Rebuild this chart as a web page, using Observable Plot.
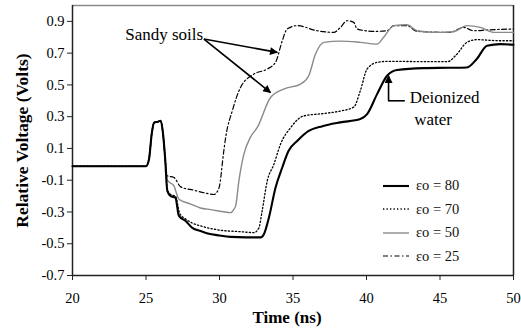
<!DOCTYPE html>
<html>
<head>
<meta charset="utf-8">
<script src="https://cdn.jsdelivr.net/npm/d3@7"></script>
<script src="https://cdn.jsdelivr.net/npm/@observablehq/plot@0.6"></script>
<style>
  html, body { margin: 0; padding: 0; background: #fff; }
  #wrap { position: relative; width: 521px; height: 333px; font-family: "Liberation Serif", "Times New Roman", serif; }
  #legend { position: absolute; left: 383px; top: 174px; font-size: 14.5px; color: #111; }
  #legend .row { display: flex; align-items: center; height: 23.5px; }
  #legend svg { margin-right: 7px; }
</style>
</head>
<body>
<div id="wrap"></div>
<script>
// Axis ticks and domains
const xTicks = [20, 25, 30, 35, 40, 45, 50];
const yTicks = [-0.7, -0.5, -0.3, -0.1, 0.1, 0.3, 0.5, 0.7, 0.9];
const xDomain = [20, 50];
const yDomain = [-0.7, 1.0];

// Shared pre-pulse baseline and reflection peak (all four traces coincide here)
const tCommon = [20, 22, 24, 25.0, 25.2, 25.4, 25.55, 25.8, 26.0, 26.15, 26.3];
const vCommon = [-0.012, -0.012, -0.012, -0.012, 0.03, 0.2, 0.262, 0.268, 0.274, 0.2, 0.04];

// εo = 80 (deionized water)
const t80 = [26.45, 26.68, 27.0, 27.24, 27.7, 28.15, 28.72, 29.2, 30.0, 30.76, 31.8, 32.8, 33.02, 33.36, 33.81, 34.27, 34.7, 35.3, 36.07, 37.0, 38.22, 39.58, 40.04, 40.72, 41.4, 42.08, 43.89, 45.5, 46.83, 47.5, 48.2, 49.1, 50];
const v80 = [-0.167, -0.2, -0.21, -0.325, -0.357, -0.4, -0.42, -0.435, -0.448, -0.457, -0.46, -0.46, -0.44, -0.336, -0.147, -0.02, 0.085, 0.148, 0.21, 0.24, 0.264, 0.285, 0.316, 0.442, 0.558, 0.594, 0.606, 0.608, 0.61, 0.663, 0.747, 0.757, 0.753];

// εo = 70
const t70 = [26.45, 26.68, 27.0, 27.3, 27.7, 28.15, 28.72, 30.07, 31.43, 32.34, 32.68, 32.9, 33.25, 33.7, 34.15, 34.83, 35.73, 37.1, 38.2, 39.13, 39.58, 40.04, 40.72, 41.4, 45.5, 46.15, 46.83, 47.5, 49.1, 50];
const v70 = [-0.16, -0.19, -0.2, -0.31, -0.345, -0.37, -0.388, -0.415, -0.424, -0.43, -0.4, -0.294, -0.104, 0.0, 0.127, 0.23, 0.305, 0.32, 0.335, 0.36, 0.463, 0.6, 0.642, 0.648, 0.646, 0.694, 0.768, 0.785, 0.778, 0.778];

// εo = 50
const t50 = [26.45, 26.9, 27.24, 28.04, 28.7, 29.4, 30.76, 30.98, 31.1, 31.32, 31.66, 32.1, 32.57, 33.47, 34.37, 35.51, 36.07, 36.53, 37.1, 38.23, 39.58, 40.72, 41.17, 41.85, 42.76, 43.44, 44.8, 45.93, 46.83, 47.74, 48.64, 50];
const v50 = [-0.1, -0.136, -0.22, -0.25, -0.275, -0.285, -0.304, -0.283, -0.262, -0.104, 0.064, 0.17, 0.232, 0.421, 0.474, 0.505, 0.558, 0.694, 0.768, 0.776, 0.768, 0.757, 0.8, 0.873, 0.879, 0.841, 0.831, 0.835, 0.873, 0.862, 0.831, 0.831];

// εo = 25
const t25 = [26.45, 26.9, 27.36, 28.26, 29.0, 29.62, 29.96, 30.3, 30.42, 30.87, 31.43, 32.34, 33.25, 33.81, 34.27, 34.6, 35.29, 36.64, 37.77, 38.23, 38.68, 39.13, 39.36, 40.49, 41.4, 41.85, 42.76, 43.44, 45.7, 46.6, 47.3, 48.2, 50];
const v25 = [-0.073, -0.083, -0.142, -0.163, -0.18, -0.19, -0.15, 0.09, 0.17, 0.337, 0.484, 0.568, 0.6, 0.642, 0.778, 0.852, 0.873, 0.841, 0.831, 0.862, 0.904, 0.894, 0.852, 0.837, 0.841, 0.873, 0.873, 0.837, 0.831, 0.862, 0.841, 0.846, 0.852];

// Legend labels
const seriesNames = ["εo = 80", "εo = 70", "εo = 50", "εo = 25"];

// Annotations
const sandyText = ["Sandy soils"];
const sandyFrom = [28.94, 0.789];
const sandyTips = [[33.93, 0.705], [33.47, 0.452]];
const waterText = ["Deionized", "water"];
const waterTip = [41.5, 0.558];
const waterElbow = [41.5, 0.40];
const waterLeg = [42.64, 0.40];

const toRows = (ts, vs) => tCommon.map((t, i) => ({t, v: vCommon[i]})).concat(ts.map((t, i) => ({t, v: vs[i]})));

const styles = [
  {stroke: "#000", strokeWidth: 2.1},
  {stroke: "#000", strokeWidth: 1.3, strokeDasharray: "1.3,2.2"},
  {stroke: "#8a8a8a", strokeWidth: 1.4},
  {stroke: "#000", strokeWidth: 1.2, strokeDasharray: "5,2.5,1.5,2.5"}
];
const series = [[t80, v80], [t70, v70], [t50, v50], [t25, v25]];

const arrowRows = sandyTips.map(d => ({x1: sandyFrom[0], y1: sandyFrom[1], x2: d[0], y2: d[1]}))
  .concat([{x1: waterElbow[0], y1: waterElbow[1], x2: waterTip[0], y2: waterTip[1]}]);

const chart = Plot.plot({
  width: 521,
  height: 333,
  marginLeft: 72,
  marginRight: 8,
  marginTop: 5,
  marginBottom: 58,
  style: {fontFamily: "Liberation Serif, Times New Roman, serif", background: "#fff"},
  x: {domain: xDomain},
  y: {domain: yDomain},
  marks: [
    // frame: grey top edge, dark right edge, axis lines
    Plot.ruleY([yDomain[1]], {stroke: "#8a8a8a", strokeWidth: 1.5}),
    Plot.ruleX([xDomain[1]], {stroke: "#222", strokeWidth: 1.5}),
    Plot.ruleX([xDomain[0]], {stroke: "#222", strokeWidth: 1.5}),
    Plot.ruleY([yDomain[0]], {stroke: "#222", strokeWidth: 1.5}),
    Plot.axisY({ticks: yTicks, tickFormat: d => d.toFixed(1), tickSize: 5, tickPadding: 3, fontSize: 14.5, label: null, stroke: "#222"}),
    Plot.axisX({ticks: xTicks, tickFormat: d => String(d), tickSize: 5, tickPadding: 12, fontSize: 14.5, label: null, stroke: "#222"}),
    Plot.text(["Time (ns)"], {frameAnchor: "bottom", dx: -6, dy: 47.5, fontSize: 17, fontWeight: "bold", fill: "#000"}),
    Plot.text(["Relative Voltage (Volts)"], {frameAnchor: "left", dx: -50, rotate: -90, textAnchor: "middle", fontSize: 17.5, fontWeight: "bold", fill: "#000"}),
    // traces, drawn back to front
    ...series.slice().reverse().map(([ts, vs], j) => {
      const i = series.length - 1 - j;
      return Plot.line(toRows(ts, vs), {x: "t", y: "v", curve: "monotone-x", ...styles[i]});
    }),
    // annotations
    Plot.text(sandyText, {x: sandyFrom[0] - 0.05, y: sandyFrom[1] + 0.03, textAnchor: "end", fontSize: 17, fill: "#000"}),
    Plot.link(arrowRows, {x1: "x1", y1: "y1", x2: "x2", y2: "y2", stroke: "#000", strokeWidth: 1.6}),
    Plot.ruleY([waterLeg[1]], {x1: waterElbow[0], x2: waterLeg[0], stroke: "#000", strokeWidth: 1.6}),
    Plot.text([waterText[0]], {x: waterLeg[0] + 0.3, y: 0.421, textAnchor: "start", fontSize: 17, fill: "#000"}),
    Plot.text([waterText[1]], {x: waterLeg[0] + 0.6, y: 0.285, textAnchor: "start", fontSize: 17, fill: "#000"})
  ]
});

// solid triangular heads on the annotation arrows
const svg = d3.select(chart);
svg.insert("defs", ":first-child")
  .append("marker")
  .attr("id", "solid-head")
  .attr("viewBox", "0 0 10 10")
  .attr("refX", 9).attr("refY", 5)
  .attr("markerWidth", 10).attr("markerHeight", 8)
  .attr("markerUnits", "userSpaceOnUse")
  .attr("orient", "auto")
  .append("path").attr("d", "M0,0L10,5L0,10Z").attr("fill", "#000");
svg.selectAll('g[aria-label="link"] path').attr("marker-end", "url(#solid-head)");

const wrap = document.getElementById("wrap");
wrap.appendChild(chart);

// legend
const legend = document.createElement("div");
legend.id = "legend";
seriesNames.forEach((name, i) => {
  const row = document.createElement("div");
  row.className = "row";
  const sw = d3.create("svg").attr("width", 26).attr("height", 8);
  const s = styles[i];
  sw.append("line").attr("x1", 0).attr("x2", 26).attr("y1", 4).attr("y2", 4)
    .attr("stroke", s.stroke).attr("stroke-width", s.strokeWidth)
    .attr("stroke-dasharray", s.strokeDasharray || null);
  row.appendChild(sw.node());
  const label = document.createElement("span");
  label.textContent = name;
  row.appendChild(label);
  legend.appendChild(row);
});
wrap.appendChild(legend);
</script>
</body>
</html>
